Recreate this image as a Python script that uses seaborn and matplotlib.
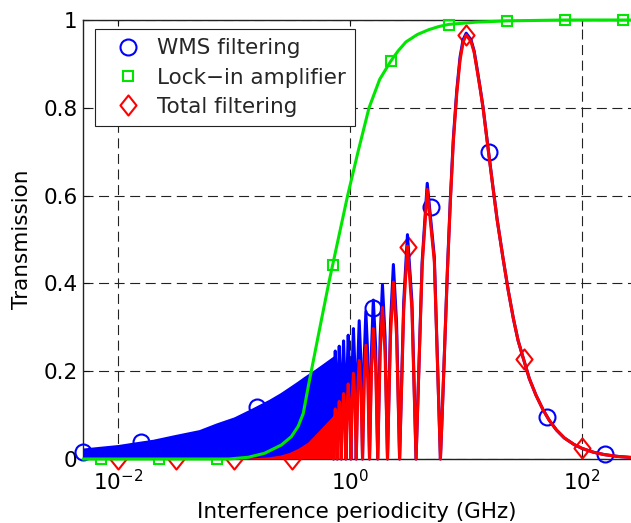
import matplotlib
matplotlib.use("Agg")
import matplotlib.pyplot as plt
from matplotlib.path import Path
from matplotlib.ticker import FixedLocator, FixedFormatter, NullLocator
import seaborn as sns

# ---------------- data: interference periodicity (GHz) vs transmission ----------------

# WMS filtering: outer edge of the unresolved fast-fringe band at low periodicity
wms_band_ghz = [0.005, 0.007, 0.01, 0.014, 0.02, 0.03, 0.05, 0.07, 0.1, 0.14, 0.2, 0.25,
                0.3, 0.35, 0.4, 0.5, 0.6, 0.72]
wms_band_top = [0.025, 0.029, 0.033, 0.039, 0.045, 0.055, 0.067, 0.082, 0.096, 0.115, 0.136, 0.151,
                0.165, 0.177, 0.188, 0.205, 0.220, 0.235]

# resolved fringe lobes: zero crossings, lobe tops and lobe shoulders
lobe_zero_ghz = [0.72, 0.775, 0.84, 0.92, 1.015, 1.13, 1.28, 1.47, 1.73, 2.10, 2.67, 3.70, 6.0]
lobe_peak_ghz = [0.745, 0.806, 0.878, 0.963, 1.068, 1.198, 1.367, 1.585, 1.90, 2.36, 3.12, 4.62]
wms_peak_val = [0.246, 0.257, 0.269, 0.282, 0.297, 0.315, 0.336, 0.362, 0.397, 0.443, 0.511, 0.628]
lobe_rise_ghz = [0.733, 0.791, 0.859, 0.943, 1.043, 1.166, 1.325, 1.531, 1.816, 2.23, 2.897, 4.176]
lobe_fall_ghz = [0.761, 0.823, 0.899, 0.990, 1.100, 1.241, 1.420, 1.661, 2.001, 2.514, 3.411, 5.317]
wms_rise_val = [0.172, 0.180, 0.188, 0.197, 0.208, 0.220, 0.235, 0.253, 0.278, 0.310, 0.358, 0.45]
wms_fall_val = [0.172, 0.180, 0.188, 0.197, 0.208, 0.220, 0.235, 0.253, 0.278, 0.310, 0.358, 0.46]

# main lobe and high-periodicity tail
main_ghz = [6.2, 6.45, 6.9, 7.3, 7.75, 8.3, 8.85, 9.4, 10.0, 11.0, 11.7, 12.4, 13.2, 14.0,
            15.5, 17.0, 18.5, 20.7, 23.0, 25.5, 28.0, 31.0, 35.0, 40.0, 46.0, 52.0, 60.0,
            70.0, 85.0, 100.0, 125.0, 155.0, 200.0, 263.0]
wms_main_val = [0.095, 0.22, 0.435, 0.59, 0.73, 0.84, 0.915, 0.955, 0.970, 0.955, 0.93, 0.89,
                0.845, 0.80, 0.705, 0.62, 0.545, 0.46, 0.385, 0.32, 0.27, 0.23, 0.183, 0.145,
                0.112, 0.088, 0.066, 0.048, 0.033, 0.024, 0.0154, 0.010, 0.006, 0.0035]

# Lock-in amplifier response
lockin_ghz = [0.005, 0.09, 0.133, 0.183, 0.256, 0.312, 0.358, 0.395, 0.436, 0.463, 0.531,
              0.654, 0.789, 0.952, 1.171, 1.456, 1.8, 2.248, 2.6, 3.025, 3.8, 4.766, 5.8,
              7.075, 12.0, 22.27, 68.7, 263.0]
lockin_val = [0.0, 0.0, 0.004, 0.013, 0.032, 0.051, 0.075, 0.104, 0.165, 0.20, 0.28,
              0.40, 0.50, 0.60, 0.70, 0.80, 0.865, 0.907, 0.93, 0.95, 0.967, 0.978, 0.985,
              0.99, 0.995, 0.998, 1.0, 1.0]

# Total filtering (WMS x lock-in)
total_band_ghz = [0.005, 0.08, 0.1, 0.15, 0.2, 0.25, 0.3, 0.36, 0.43, 0.5, 0.6, 0.72]
total_band_top = [0.0, 0.0, 0.001, 0.003, 0.005, 0.009, 0.015, 0.025, 0.038, 0.056, 0.078, 0.100]
total_peak_val = [0.114, 0.131, 0.149, 0.171, 0.195, 0.224, 0.259, 0.297, 0.345, 0.403, 0.485, 0.614]
total_rise_val = [0.080, 0.092, 0.104, 0.120, 0.137, 0.157, 0.181, 0.208, 0.242, 0.282, 0.340, 0.44]
total_fall_val = [0.080, 0.092, 0.104, 0.120, 0.137, 0.157, 0.181, 0.208, 0.242, 0.282, 0.340, 0.45]
total_main_val = [0.094, 0.217, 0.43, 0.584, 0.723, 0.833, 0.908, 0.949, 0.966, 0.951, 0.927, 0.887,
                  0.843, 0.798, 0.703, 0.619, 0.544, 0.46, 0.385, 0.32, 0.27, 0.23, 0.183, 0.145,
                  0.112, 0.088, 0.066, 0.048, 0.033, 0.024, 0.0154, 0.010, 0.006, 0.0035]

# sampled markers
wms_mark_ghz = [0.00501, 0.01585, 0.0501, 0.1585, 0.501, 1.585, 5.01, 15.85, 50.1, 158.5]
wms_mark_val = [0.015, 0.039, 0.03, 0.119, 0.12, 0.344, 0.573, 0.699, 0.095, 0.011]
lockin_mark_ghz = [0.00708, 0.0224, 0.0708, 0.224, 0.708, 2.24, 7.08, 22.4, 70.8, 224.0]
lockin_mark_val = [0.0, 0.0, 0.0, 0.022, 0.441, 0.907, 0.989, 0.998, 1.0, 1.0]
total_mark_ghz = [0.01, 0.0316, 0.1, 0.316, 3.16, 10.0, 31.6, 100.0]
total_mark_val = [0.0, 0.0, 0.0, 0.0, 0.484, 0.966, 0.228, 0.024]

series_labels = ["WMS filtering", "Lock\u2212in amplifier", "Total filtering"]

x_tick_ghz = [1e-2, 1e0, 1e2]
x_tick_labels = [r"$\mathdefault{10^{-2}}$", r"$\mathdefault{10^{0}}$", r"$\mathdefault{10^{2}}$"]
y_ticks = [0.0, 0.2, 0.4, 0.6, 0.8, 1.0]
y_tick_labels = ["0", "0.2", "0.4", "0.6", "0.8", "1"]

# ---------------- styling ----------------
BLUE = "#0000ff"
GREEN = "#00e600"
RED = "#ff0000"
LW = 2.2
FS = 15.5

sns.set_theme(style="white")
plt.rcParams["font.family"] = ["DejaVu Sans"]
plt.rcParams["mathtext.fontset"] = "dejavusans"
plt.rcParams["mathtext.default"] = "regular"
plt.rcParams["axes.unicode_minus"] = True


def lobe_curve(zeros, peaks, peak_vals, rises, rise_vals, falls, fall_vals, tail_x, tail_vals):
    pts = [(z, 0.0) for z in zeros]
    pts += list(zip(peaks, peak_vals))
    pts += list(zip(rises, rise_vals))
    pts += list(zip(falls, fall_vals))
    pts += list(zip(tail_x, tail_vals))
    pts.sort(key=lambda p: p[0])
    return [p[0] for p in pts], [p[1] for p in pts]


fig = plt.figure(figsize=(6.31, 5.23), dpi=100)
ax = fig.add_axes([83 / 631, 64 / 523, 548 / 631, 439 / 523])
ax.set_xscale("log")

# markers first so the curves sit on top of them
diamond = Path([(0, 1), (0.8, 0), (0, -1), (-0.8, 0), (0, 1)],
               [Path.MOVETO, Path.LINETO, Path.LINETO, Path.LINETO, Path.CLOSEPOLY])
marker_specs = [
    (wms_mark_ghz, wms_mark_val, BLUE, "o", 11.5),
    (lockin_mark_ghz, lockin_mark_val, GREEN, "s", 7.4),
    (total_mark_ghz, total_mark_val, RED, diamond, 14.5),
]
for (mx, my, col, mk, ms), lab in zip(marker_specs, series_labels):
    sns.lineplot(x=mx, y=my, ax=ax, label=lab, linestyle="", marker=mk, markersize=ms,
                 markerfacecolor="none", markeredgecolor=col, markeredgewidth=1.5,
                 estimator=None, sort=False)
    ax.lines[-1].set_clip_on(False)
    ax.lines[-1].set_zorder(1.6)

# WMS filtering
ax.fill_between(wms_band_ghz, 0, wms_band_top, color=BLUE, lw=0, zorder=2.0)
bx, by = lobe_curve(lobe_zero_ghz, lobe_peak_ghz, wms_peak_val, lobe_rise_ghz, wms_rise_val,
                    lobe_fall_ghz, wms_fall_val, main_ghz, wms_main_val)
sns.lineplot(x=bx, y=by, ax=ax, color=BLUE, lw=LW, estimator=None, sort=False)
ax.lines[-1].set_clip_on(False)
ax.lines[-1].set_zorder(2.0)

# Total filtering
ax.fill_between(total_band_ghz, 0, total_band_top, color=RED, lw=0, zorder=2.1)
rx, ry = lobe_curve(lobe_zero_ghz, lobe_peak_ghz, total_peak_val, lobe_rise_ghz, total_rise_val,
                    lobe_fall_ghz, total_fall_val, main_ghz, total_main_val)
sns.lineplot(x=rx, y=ry, ax=ax, color=RED, lw=LW, estimator=None, sort=False)
ax.lines[-1].set_clip_on(False)
ax.lines[-1].set_zorder(2.1)

# Lock-in amplifier
sns.lineplot(x=lockin_ghz, y=lockin_val, ax=ax, color=GREEN, lw=LW, estimator=None, sort=False)
ax.lines[-1].set_clip_on(False)
ax.lines[-1].set_zorder(2.2)

# ---------------- axes ----------------
ax.set_xlim(0.005, 263)
ax.set_ylim(0, 1)
ax.xaxis.set_major_locator(FixedLocator(x_tick_ghz))
ax.xaxis.set_major_formatter(FixedFormatter(x_tick_labels))
ax.xaxis.set_minor_locator(NullLocator())
ax.yaxis.set_major_locator(FixedLocator(y_ticks))
ax.yaxis.set_major_formatter(FixedFormatter(y_tick_labels))
ax.yaxis.set_minor_locator(NullLocator())

ax.set_axisbelow(True)
ax.grid(True, color="#222222", linestyle=(0, (9, 5)), linewidth=0.8)
ax.tick_params(direction="in", length=4, width=0.8, colors="#111111", labelcolor="black",
               labelsize=FS, bottom=True, left=True, top=True, right=False)
ax.tick_params(axis="x", pad=7)
ax.tick_params(axis="y", pad=4)
for side, sp in ax.spines.items():
    sp.set_color("#222222")
    sp.set_linewidth(1.0)
    sp.set_zorder(1.0)
ax.spines["right"].set_visible(False)

ax.set_xlabel("Interference periodicity (GHz)", fontsize=FS, labelpad=6, color="black")
ax.set_ylabel("Transmission", fontsize=FS, labelpad=8, color="black")

leg = ax.legend(loc="upper left", bbox_to_anchor=(0.0219, 0.9795), borderaxespad=0,
                frameon=True, fancybox=False, framealpha=1, edgecolor="#222222",
                fontsize=FS, borderpad=0.42, handlelength=2.23, handletextpad=0.23,
                labelspacing=0.44)
leg.get_frame().set_linewidth(0.8)
leg.set_zorder(5)

fig.savefig("out.png", dpi=100, facecolor="white")
